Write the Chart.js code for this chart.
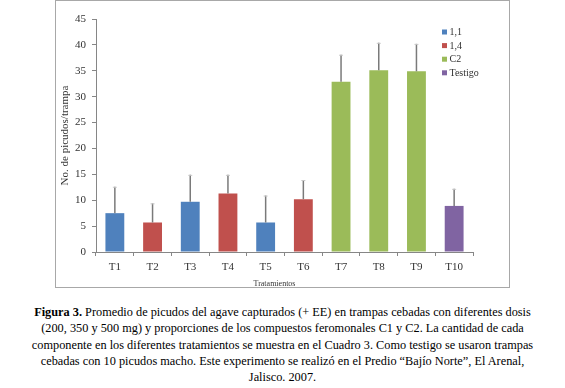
<!DOCTYPE html>
<html>
<head>
<meta charset="utf-8">
<script src="https://cdn.jsdelivr.net/npm/chart.js@4.4.1/dist/chart.umd.min.js"></script>
<style>
  body { margin: 0; background: #fff; width: 565px; height: 388px; position: relative; overflow: hidden; }
  #marco { position: absolute; left: 55px; top: 0; width: 453px; height: 286px; border: 1px solid #a8a8a8; }
  #grafica { position: absolute; left: 0; top: 0; }
  #pie {
    position: absolute; left: 0; top: 304px; width: 565px; text-align: center;
    font-family: "Liberation Serif", "Times New Roman", serif; font-size: 12.3px; line-height: 16.3px;
    color: #000; white-space: nowrap;
  }
</style>
</head>
<body>
<div id="marco"></div>
<canvas id="grafica" width="565" height="295"></canvas>
<div id="pie">
  <b>Figura 3.</b> Promedio de picudos del agave capturados (+ EE) en trampas cebadas con diferentes dosis<br>
  (200, 350 y 500 mg) y proporciones de los compuestos feromonales C1 y C2. La cantidad de cada<br>
  componente en los diferentes tratamientos se muestra en el Cuadro 3. Como testigo se usaron trampas<br>
  cebadas con 10 picudos macho. Este experimento se realizó en el Predio “Bajío Norte”, El Arenal,<br>
  Jalisco. 2007.
</div>
<script>
// --- DATOS ---
const tratamientos = ['T1', 'T2', 'T3', 'T4', 'T5', 'T6', 'T7', 'T8', 'T9', 'T10'];
const grupos = ['1,1', '1,4', 'C2', 'Testigo'];
const grupoDe = [0, 1, 0, 1, 0, 1, 2, 2, 2, 3];
const medias = [7.5, 5.7, 9.7, 11.3, 5.7, 10.2, 32.9, 35.1, 34.9, 8.9];
const errores = [5.1, 3.7, 5.2, 3.6, 5.2, 3.7, 5.2, 5.3, 5.3, 3.3];
const yTicks = [0, 5, 10, 15, 20, 25, 30, 35, 40, 45];

const colores = ['#4f81bd', '#c0504d', '#9bbb59', '#8064a2'];
const fuente = '"Liberation Serif", "Times New Roman", serif';

// one dataset per group, nulls elsewhere (stacked so bars stay centred)
const datasets = grupos.map((g, i) => ({
    label: g,
    data: medias.map((v, j) => grupoDe[j] === i ? v : null),
    backgroundColor: colores[i],
    borderWidth: 0,
    categoryPercentage: 1,
    barPercentage: 0.5
}));

// error bars (+EE only)
const barrasError = {
    id: 'barrasError',
    afterDatasetsDraw(chart) {
        const { ctx, scales: { x, y } } = chart;
        ctx.save();
        medias.forEach((m, j) => {
            const px = x.getPixelForValue(j);
            const y0 = y.getPixelForValue(m);
            const y1 = y.getPixelForValue(m + errores[j]);
            ctx.strokeStyle = '#7a7a7a';
            ctx.lineWidth = 1.5;
            ctx.beginPath();
            ctx.moveTo(px, y0);
            ctx.lineTo(px, y1);
            ctx.stroke();
            ctx.strokeStyle = '#c8c8c8';
            ctx.lineWidth = 1;
            ctx.beginPath();
            ctx.moveTo(px - 2, y1 + 0.5);
            ctx.lineTo(px + 2, y1 + 0.5);
            ctx.stroke();
        });
        ctx.restore();
    }
};

// small legend floating at top right
const leyenda = {
    id: 'leyenda',
    afterDraw(chart) {
        const { ctx } = chart;
        ctx.save();
        ctx.font = '10px ' + fuente;
        ctx.textBaseline = 'middle';
        chart.data.datasets.forEach((ds, i) => {
            const yy = 32 + i * 13.6;
            ctx.fillStyle = ds.backgroundColor;
            ctx.fillRect(442, yy - 2.5, 5, 5);
            ctx.fillStyle = '#333';
            ctx.fillText(ds.label, 449.5, yy + 0.5);
        });
        ctx.restore();
    }
};

new Chart(document.getElementById('grafica'), {
    type: 'bar',
    data: { labels: tratamientos, datasets },
    options: {
        responsive: false,
        animation: false,
        layout: { padding: { left: 56, right: 92, top: 19, bottom: 0 } },
        plugins: { legend: { display: false }, tooltip: { enabled: false } },
        scales: {
            x: {
                stacked: true,
                grid: { drawOnChartArea: false, drawTicks: true, tickLength: 4, color: '#868686' },
                border: { color: '#868686', width: 1 },
                ticks: { color: '#333', padding: 5, font: { family: fuente, size: 11 } },
                title: {
                    display: true,
                    text: 'Tratamientos' + '\u00a0'.repeat(10),
                    color: '#333',
                    font: { family: fuente, size: 8 },
                    padding: { top: 0, bottom: 6 }
                },
                afterFit: (s) => { s.height = 43; }
            },
            y: {
                stacked: true,
                min: 0,
                max: 45,
                afterBuildTicks: (s) => { s.ticks = yTicks.map(v => ({ value: v })); },
                grid: { drawOnChartArea: false, drawTicks: true, tickLength: 4, color: '#868686' },
                border: { color: '#868686', width: 1 },
                ticks: { color: '#333', padding: 6, font: { family: fuente, size: 11 } },
                title: {
                    display: true,
                    text: 'No. de picudos/trampa',
                    color: '#333',
                    font: { family: fuente, size: 11 },
                    padding: { top: 3, bottom: 0 }
                },
                afterFit: (s) => { s.width = 40; }
            }
        }
    },
    plugins: [barrasError, leyenda]
});
</script>
</body>
</html>
